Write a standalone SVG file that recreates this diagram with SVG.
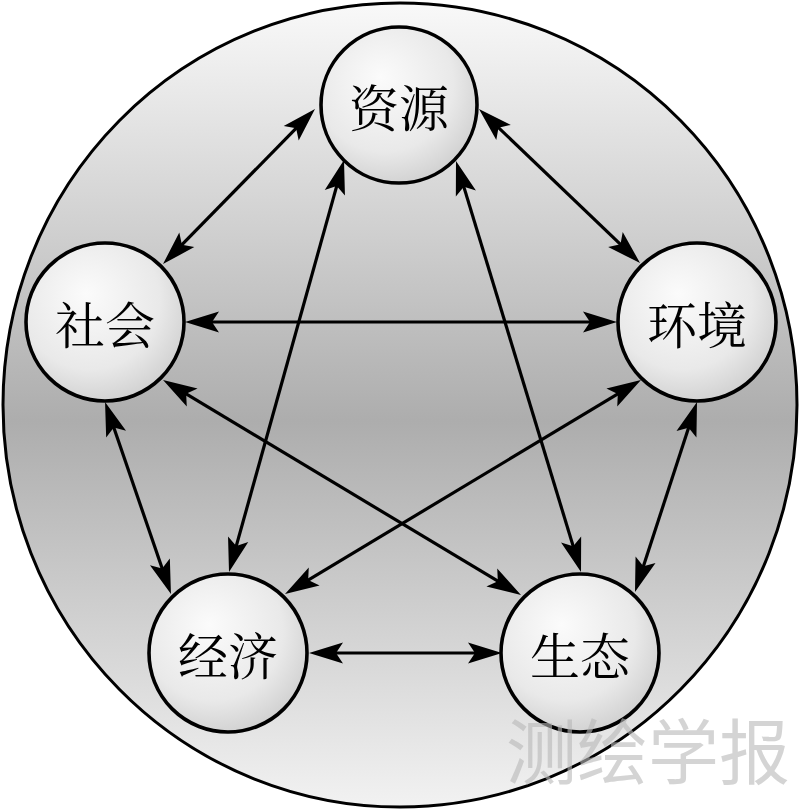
<svg xmlns="http://www.w3.org/2000/svg" width="800" height="810" viewBox="0 0 800 810">
  <defs>
    <linearGradient id="bg" x1="0" y1="0" x2="0" y2="1">
      <stop offset="0" stop-color="#f9f9f9"/>
      <stop offset="0.52" stop-color="#adadad"/>
      <stop offset="1" stop-color="#f2f2f2"/>
    </linearGradient>
    <radialGradient id="nodefill" cx="0.42" cy="0.38" r="0.68" fx="0.38" fy="0.32">
      <stop offset="0" stop-color="#fbfbfb"/>
      <stop offset="0.65" stop-color="#e9e9e9"/>
      <stop offset="1" stop-color="#cdcdcd"/>
    </radialGradient>
    <marker id="ah" markerUnits="userSpaceOnUse" markerWidth="40" markerHeight="30" refX="0" refY="0" orient="auto-start-reverse" overflow="visible">
      <path d="M10,0 L-24,-10.5 L-17,0 L-24,10.5 Z" fill="#000"/>
    </marker>
  </defs>
  <style>
    .node circle { fill: url(#nodefill); stroke: #000; stroke-width: 3.6; }
    .node text { font-family: "Noto Serif CJK SC", "Liberation Serif", "Noto Sans CJK SC", serif; font-size: 50px; fill: #000; text-anchor: middle; dominant-baseline: central; }
    #connectors line { stroke: #000; stroke-width: 3.2; marker-start: url(#ah); marker-end: url(#ah); }
  </style>

  <g id="background">
    <ellipse cx="400" cy="405" rx="397" ry="402" fill="url(#bg)"/>
  </g>

  <g id="connectors">
    <line x1="308" y1="116.1" x2="170" y2="256.9"/>
    <line x1="486.2" y1="115.9" x2="632.8" y2="256.1"/>
    <line x1="341.3" y1="169.6" x2="231.7" y2="562.4"/>
    <line x1="458.9" y1="170.6" x2="578.1" y2="562.4"/>
    <line x1="195" y1="322" x2="607" y2="322"/>
    <line x1="108.3" y1="411.5" x2="167.7" y2="584.5"/>
    <line x1="171.6" y1="385.1" x2="512.4" y2="589.9"/>
    <line x1="632.4" y1="385.2" x2="293.6" y2="588.8"/>
    <line x1="693.9" y1="411.5" x2="638.1" y2="582.5"/>
    <line x1="319" y1="653" x2="492" y2="653"/>
  </g>

  <g id="node-ziyuan" class="node">
    <circle cx="399" cy="105" r="78"/>
    <text x="399" y="105">资源</text>
  </g>
  <g id="node-shehui" class="node">
    <circle cx="105" cy="322" r="79"/>
    <text x="105" y="322">社会</text>
  </g>
  <g id="node-huanjing" class="node">
    <circle cx="697" cy="322" r="79"/>
    <text x="697" y="322">环境</text>
  </g>
  <g id="node-jingji" class="node">
    <circle cx="228" cy="653" r="79"/>
    <text x="228" y="653">经济</text>
  </g>
  <g id="node-shengtai" class="node">
    <circle cx="580" cy="653" r="79"/>
    <text x="580" y="653">生态</text>
  </g>

  <g id="outline">
    <ellipse cx="400" cy="405" rx="397" ry="402" fill="none" stroke="#000" stroke-width="3"/>
  </g>

  <g id="watermark">
    <text x="506" y="778" font-family="Noto Sans CJK SC, sans-serif" font-size="71" fill="#b8b8b8" fill-opacity="0.6">测绘学报</text>
  </g>
</svg>
